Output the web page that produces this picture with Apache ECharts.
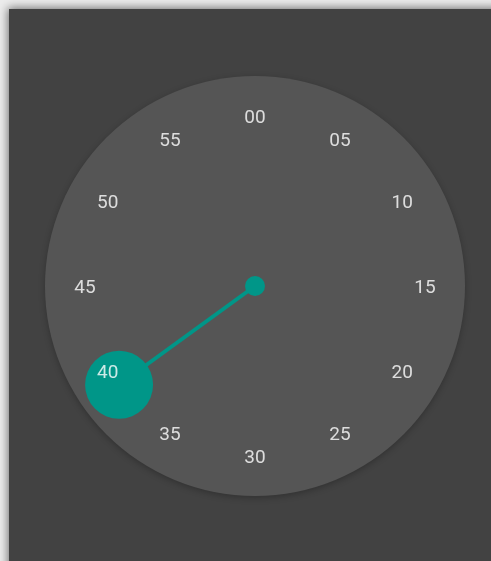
<!DOCTYPE html>
<html>
<head>
<meta charset="utf-8">
<script src="https://cdn.jsdelivr.net/npm/echarts@6/dist/echarts.min.js"></script>
<style>
  html, body { margin: 0; padding: 0; width: 491px; height: 561px; background: #ececec; overflow: hidden; }
  #panel { position: absolute; left: 9px; top: 9px; width: 500px; height: 600px; background: #424242; box-shadow: 0 0 9px 1px rgba(0,0,0,0.55); }
  #chart { position: absolute; left: 0; top: 0; width: 491px; height: 561px; }
</style>
</head>
<body>
<div id="panel"></div>
<div id="chart"></div>
<script>
// Minute positions on the dial and their labels
const minuteTicks = [0, 5, 10, 15, 20, 25, 30, 35, 40, 45, 50, 55];
const tickLabels = ['00', '05', '10', '15', '20', '25', '30', '35', '40', '45', '50', '55'];
// Selected minute the hand points to
const selectedMinute = [39];
const labelRadius = [170];
const handRadius = [168];
const dialRadius = [210];

const chart = echarts.init(document.getElementById('chart'), null, { renderer: 'canvas' });
const teal = '#009688';

const option = {
  backgroundColor: 'transparent',
  animation: false,
  polar: { center: [255, 286], radius: dialRadius[0] },
  angleAxis: {
    type: 'value', min: 0, max: 60, startAngle: 90, clockwise: true,
    axisLine: { show: false }, axisTick: { show: false }, axisLabel: { show: false },
    splitLine: { show: false }
  },
  radiusAxis: {
    type: 'value', min: 0, max: dialRadius[0], interval: dialRadius[0],
    axisLine: { show: false }, axisTick: { show: false }, axisLabel: { show: false },
    splitLine: { show: false },
    splitArea: { show: true, areaStyle: { color: ['#555555'], shadowBlur: 6, shadowColor: 'rgba(0,0,0,0.25)', shadowOffsetY: 2 } }
  },
  series: [
    {
      type: 'line', coordinateSystem: 'polar', symbol: 'none', z: 2,
      lineStyle: { color: teal, width: 4 },
      data: [[0, 0], [handRadius[0], selectedMinute[0]]]
    },
    {
      type: 'scatter', coordinateSystem: 'polar', z: 3,
      symbolSize: 68, itemStyle: { color: teal, opacity: 1 },
      data: [[handRadius[0], selectedMinute[0]]]
    },
    {
      type: 'scatter', coordinateSystem: 'polar', z: 3,
      symbolSize: 20, itemStyle: { color: teal, opacity: 1 },
      data: [[0, 0]]
    },
    {
      type: 'scatter', coordinateSystem: 'polar', z: 5,
      symbolSize: 1, itemStyle: { color: 'rgba(0,0,0,0)' },
      data: minuteTicks.map((m, i) => ({ value: [labelRadius[0], m], name: tickLabels[i] })),
      label: {
        show: true, position: 'inside', offset: [0, 2], formatter: p => p.name,
        color: '#ffffff', fontFamily: 'Roboto', fontSize: 19
      }
    }
  ]
};
chart.setOption(option);
</script>
</body>
</html>
